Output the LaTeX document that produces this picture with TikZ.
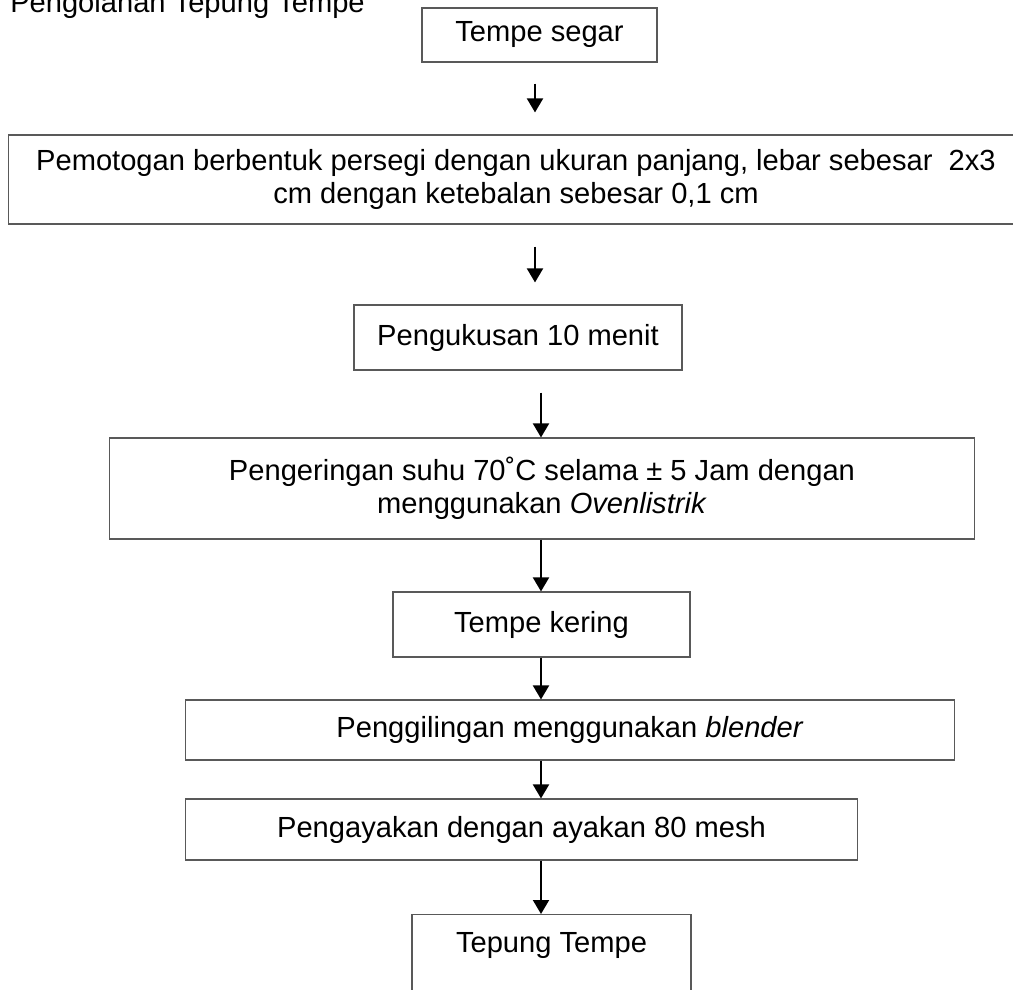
\documentclass[tikz,border=0pt]{standalone}
\usepackage{fontspec}
\setmainfont{Liberation Sans}
\usetikzlibrary{arrows.meta}

\tikzset{
	box/.style={draw=black!65, line width=0.8pt, inner sep=0pt, align=center, font=\fontsize{20.7}{23.8}\selectfont},
	arr/.style={-{Triangle[width=0.4cm,length=0.35cm]}, line width=1.4pt},
}

\begin{document}
\begin{tikzpicture}[x=0.025cm, y=-0.025cm]
	\useasboundingbox (0,0) rectangle (1013,990);

	\node[anchor=base west, inner sep=0pt, font=\fontsize{20.7}{23.8}\selectfont] (judul) at (10,13) {Pengolahan Tepung Tempe};

	\node[box, minimum width=5.875cm, minimum height=1.35cm] (segar) at (539.5,35) {Tempe segar};
	\node[box, minimum width=25.35cm, minimum height=2.225cm] (potong) at (516,179.5) {Pemotogan berbentuk persegi dengan ukuran panjang, lebar sebesar \ 2x3\\cm dengan ketebalan sebesar 0,1 cm};
	\node[box, minimum width=8.2cm, minimum height=1.625cm] (kukus) at (518,337.5) {Pengukusan 10 menit};
	\node[box, minimum width=21.6cm, minimum height=2.525cm] (oven) at (542,488.5) {Pengeringan suhu 70˚C selama ± 5 Jam dengan\\menggunakan \textit{Ovenlistrik}};
	\node[box, minimum width=7.425cm, minimum height=1.625cm] (kering) at (541.5,624.5) {Tempe kering};
	\node[box, minimum width=19.2cm, minimum height=1.5cm] (giling) at (570,730) {Penggilingan menggunakan \textit{blender}};
	\node[box, minimum width=16.775cm, minimum height=1.525cm] (ayak) at (521.5,829.5) {Pengayakan dengan ayakan 80 mesh};
	\node[box, anchor=north, minimum width=6.975cm, text height=0.95cm, text depth=1.45cm] (tepung) at (551.5,914) {Tepung Tempe};

	\coordinate (porosA) at (535,0);
	\coordinate (poros) at (541,0);

	\draw[arr, shorten <=0.525cm, shorten >=0.55cm] (porosA |- segar.south) -- (porosA |- potong.north);
	\draw[arr, shorten <=0.55cm, shorten >=0.55cm] (porosA |- potong.south) -- (porosA |- kukus.north);
	\draw[arr, shorten <=0.55cm] (poros |- kukus.south) -- (poros |- oven.north);
	\draw[arr] (poros |- oven.south) -- (poros |- kering.north);
	\draw[arr] (poros |- kering.south) -- (poros |- giling.north);
	\draw[arr] (poros |- giling.south) -- (poros |- ayak.north);
	\draw[arr] (poros |- ayak.south) -- (poros |- tepung.north);

\end{tikzpicture}
\end{document}
